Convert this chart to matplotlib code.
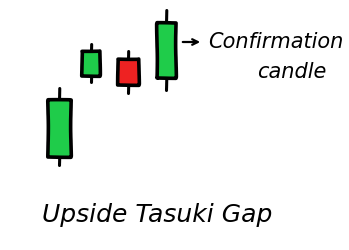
import matplotlib
matplotlib.use("Agg")
import matplotlib.pyplot as plt
from matplotlib.patches import Rectangle

# Candle data (price units, higher = up)
labels = ["c1", "c2", "c3", "c4"]
opens = [93, 174, 191, 172]
closes = [150, 199, 165, 227]
highs = [162, 206, 199, 240]
lows = [85, 168, 157, 160]
xpos = [59, 91, 128, 166]
widths = [23, 18, 21, 19]

title = "Upside Tasuki Gap"
note_lines = ["Confirmation", "candle"]

fig = plt.figure(figsize=(3.49, 2.5), dpi=100)
ax = fig.add_axes([0, 0, 1, 1])
ax.set_xlim(0, 349)
ax.set_ylim(0, 250)
ax.axis("off")

green = "#1fcc4a"
red = "#ee2222"
for x, o, c, h, l, w in zip(xpos, opens, closes, highs, lows, widths):
    col = green if c >= o else red
    lo, hi = min(o, c), max(o, c)
    for seg in ([hi, h], [l, lo]):
        ln, = ax.plot([x, x], seg, color="black", lw=2.2, solid_capstyle="round")
        ln.set_sketch_params(0.3, 60, 2)
    r = Rectangle((x - w / 2, lo), w, hi - lo, facecolor=col, edgecolor="black",
                  lw=2.6, zorder=3, joinstyle="round")
    r.set_sketch_params(0.35, 80, 2)
    ax.add_patch(r)

ax.annotate("", xy=(203, 208), xytext=(180, 208),
            arrowprops=dict(arrowstyle="->", color="black", lw=1.6))
ax.text(208, 208, note_lines[0], fontsize=15, va="center", ha="left",
        family="DejaVu Sans", style="italic")
ax.text(292, 178, note_lines[1], fontsize=15, va="center", ha="center",
        family="DejaVu Sans", style="italic")
ax.text(157, 35, title, fontsize=18, va="center", ha="center",
        family="DejaVu Sans", style="italic")

fig.savefig("out.png", dpi=100, facecolor="white")
